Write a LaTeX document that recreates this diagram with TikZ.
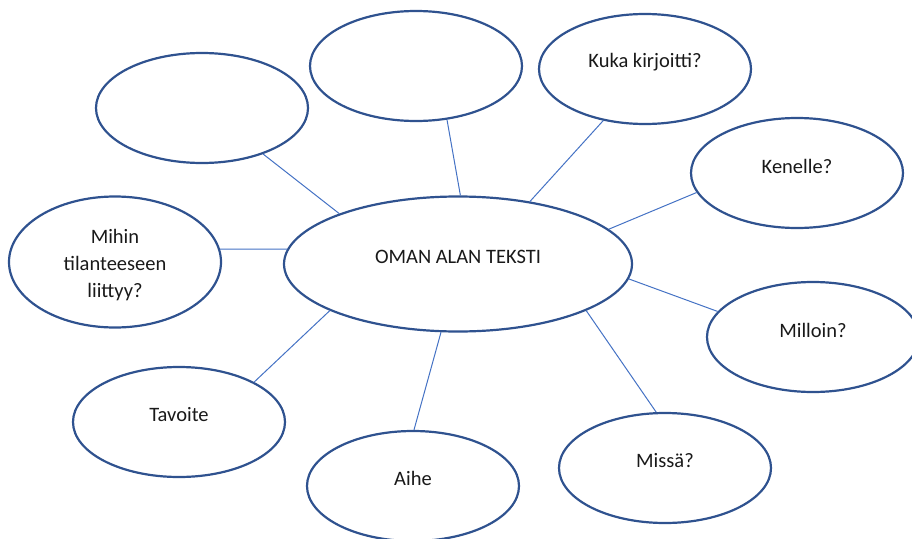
\documentclass[tikz,border=0pt]{standalone}
\usepackage{fontspec}
\setmainfont{Carlito}
\usetikzlibrary{shapes.geometric}
\definecolor{rimblue}{HTML}{2F528F}
\definecolor{linkblue}{HTML}{4472C4}

\begin{document}
\begin{tikzpicture}[x=1pt, y=-1pt,
				bubble/.style={ellipse, draw=rimblue, line width=2.2pt, minimum width=212pt, minimum height=110pt, inner sep=0pt},
				link/.style={draw=linkblue, line width=1pt},
				word/.style={font=\fontsize{20.5}{27}\selectfont, align=center, inner sep=0pt, text=black!90}]
		\useasboundingbox (0,0) rectangle (912,538);
		% keskusta
		\node[bubble, minimum width=348pt, minimum height=135pt] (hub) at (458,264) {};
		\node[word] (hubtext) at ([yshift=7pt]hub.center) {OMAN ALAN TEKSTI};
		% kuplat
		\node[bubble] (tyhja1) at (202,108) {};
		\node[bubble] (tyhja2) at (416,66) {};
		\node[bubble] (kuka) at (645,69) {};
		\node[word] (kukatext) at ([yshift=7pt]kuka.center) {Kuka kirjoitti?};
		\node[bubble] (kenelle) at (797,173) {};
		\node[word] (kenelletext) at ([yshift=7pt]kenelle.center) {Kenelle?};
		\node[bubble, minimum height=131pt] (mihin) at (115,262) {};
		\node[word] (mihintext) at ([yshift=-3pt]mihin.center) {Mihin\\tilanteeseen\\liittyy?};
		\node[bubble] (milloin) at (813,337) {};
		\node[word] (millointext) at ([yshift=7pt]milloin.center) {Milloin?};
		\node[bubble] (tavoite) at (179,422) {};
		\node[word] (tavoitetext) at ([yshift=7pt]tavoite.center) {Tavoite};
		\node[bubble] (aihe) at (413,486) {};
		\node[word] (aihetext) at ([yshift=8pt]aihe.center) {Aihe};
		\node[bubble] (missa) at (665,468) {};
		\node[word] (missatext) at ([yshift=7pt]missa.center) {Missä?};
		% yhteydet
		\draw[link] (hub.157) -- (tyhja1.-37);
		\draw[link] (hub.88) -- (tyhja2.-60);
		\draw[link] (hub.41) -- (kuka.-129);
		\draw[link] (hub.13) -- (kenelle.191);
		\draw[link] (hub.175) -- (mihin.7);
		\draw[link] (hub.-5) -- (milloin.165);
		\draw[link] (hub.200) -- (tavoite.28);
		\draw[link] (hub.256) -- (aihe.89);
		\draw[link] (hub.-20) -- (missa.99);
	\end{tikzpicture}
\end{document}
